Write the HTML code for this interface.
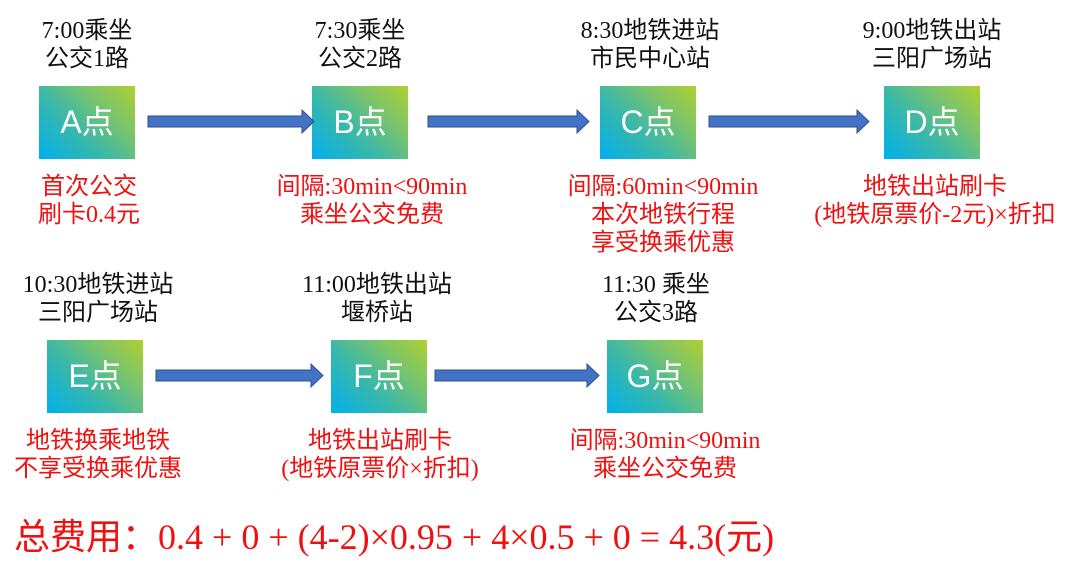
<!DOCTYPE html>
<html><head><meta charset="utf-8"><style>
body{margin:0;width:1080px;height:569px;background:#fff;position:relative;overflow:hidden;font-family:"Liberation Serif","Noto Sans CJK SC",sans-serif}
.t{position:absolute;width:320px;margin-left:-160px;text-align:center;font-size:24px;line-height:28px;color:#111;white-space:nowrap}
.r{color:#f01010}
.b{position:absolute;width:96px;height:73px;background:linear-gradient(45deg,#00b0ee 0%,#3ab8a8 40%,#7cc46a 70%,#b0d030 100%);color:#fff;font-family:"Liberation Sans","Noto Sans CJK SC",sans-serif;font-size:32px;line-height:73px;text-align:center}
.a{position:absolute;height:30px}
</style></head><body>
<div class="t" style="left:87px;top:17px">7:00乘坐<br>公交1路</div>
<div class="t" style="left:360px;top:17px">7:30乘坐<br>公交2路</div>
<div class="t" style="left:650px;top:17px">8:30地铁进站<br>市民中心站</div>
<div class="t" style="left:932px;top:17px">9:00地铁出站<br>三阳广场站</div>

<div class="b" style="left:39px;top:86px">A点</div>
<div class="b" style="left:312px;top:86px">B点</div>
<div class="b" style="left:600px;top:86px">C点</div>
<div class="b" style="left:884px;top:86px">D点</div>

<svg class="a" style="left:0;top:0;width:1080px;height:569px" viewBox="0 0 1080 569">
<g fill="#4472c4" stroke="#2f528f" stroke-width="1">
<polygon points="148,116 302,116 302,110 314,121.5 302,133 302,127 148,127"/>
<polygon points="428,116 577,116 577,110 589,121.5 577,133 577,127 428,127"/>
<polygon points="709,116 857,116 857,110 869,121.5 857,133 857,127 709,127"/>
<polygon points="156,370 311,370 311,364 323,375.5 311,387 311,381 156,381"/>
<polygon points="435,370 587,370 587,364 599,375.5 587,387 587,381 435,381"/>
</g></svg>

<div class="t r" style="left:89px;top:173px">首次公交<br>刷卡0.4元</div>
<div class="t r" style="left:372px;top:173px">间隔:30min&lt;90min<br>乘坐公交免费</div>
<div class="t r" style="left:663px;top:173px">间隔:60min&lt;90min<br>本次地铁行程<br>享受换乘优惠</div>
<div class="t r" style="left:935px;top:173px">地铁出站刷卡<br>(地铁原票价-2元)×折扣</div>

<div class="t" style="left:98px;top:271px">10:30地铁进站<br>三阳广场站</div>
<div class="t" style="left:377px;top:271px">11:00地铁出站<br>堰桥站</div>
<div class="t" style="left:656px;top:271px">11:30 乘坐<br>公交3路</div>

<div class="b" style="left:47px;top:340px">E点</div>
<div class="b" style="left:331px;top:340px">F点</div>
<div class="b" style="left:607px;top:340px">G点</div>

<div class="t r" style="left:98px;top:427px">地铁换乘地铁<br>不享受换乘优惠</div>
<div class="t r" style="left:380px;top:427px">地铁出站刷卡<br>(地铁原票价×折扣)</div>
<div class="t r" style="left:665px;top:427px">间隔:30min&lt;90min<br>乘坐公交免费</div>

<div style="position:absolute;left:14px;top:510px;font-size:36px;line-height:48px;color:#f01010;white-space:nowrap"><span style="font-family:'Noto Sans CJK SC',sans-serif">总费用：</span>0.4 + 0 + (4-2)×0.95 + 4×0.5 + 0 = 4.3(元)</div>
</body></html>
